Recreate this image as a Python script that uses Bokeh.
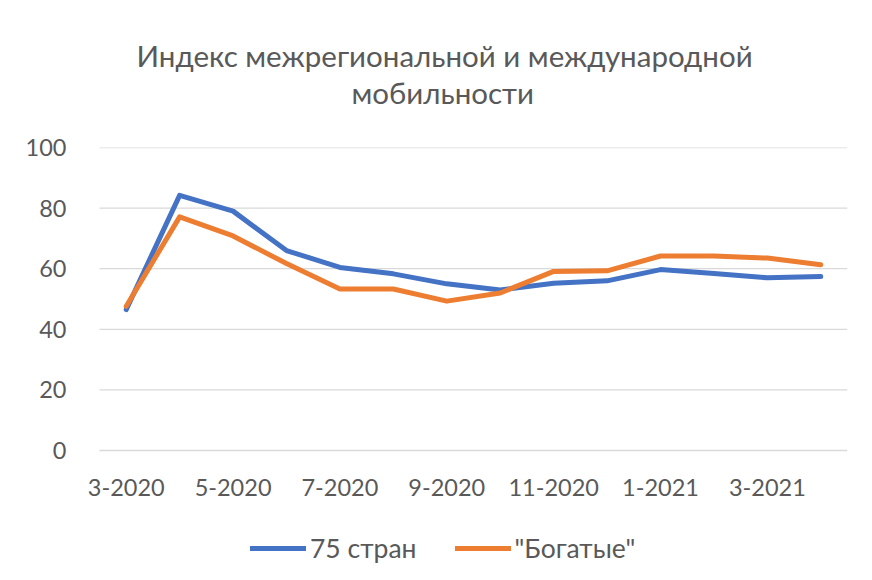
from bokeh.plotting import figure
from bokeh.models import Range1d, FixedTicker, Legend, LegendItem, Title
from bokeh.core.properties import value
from bokeh.embed import file_html
from bokeh.resources import INLINE

months = ["3-2020", "4-2020", "5-2020", "6-2020", "7-2020", "8-2020", "9-2020",
          "10-2020", "11-2020", "12-2020", "1-2021", "2-2021", "3-2021", "4-2021"]
countries75 = [46.5, 84.2, 79.0, 66.0, 60.4, 58.3, 55.0, 53.0, 55.2, 56.0, 59.7, 58.4, 57.0, 57.4]
rich = [47.6, 77.1, 70.8, 61.7, 53.3, 53.3, 49.3, 52.0, 59.1, 59.3, 64.2, 64.2, 63.5, 61.3]
series_names = ["75 стран", "\"Богатые\""]
title_lines = ["Индекс межрегиональной и международной", "мобильности"]
y_ticks = [0, 20, 40, 60, 80, 100]

FONT = "Lato"
GREY = "#595959"

xs = list(range(len(months)))
label_xs = xs[::2]
label_texts = months[::2]
cat_lo, cat_hi = -0.5, len(months) - 0.5

# frame: 303 px for 0..100, extended downward/leftward to host the category labels and legend
p = figure(frame_width=767, frame_height=428, output_backend="svg", toolbar_location=None,
           x_range=Range1d(cat_lo - 0.3556, cat_hi), y_range=Range1d(-41.25, 100),
           min_border_left=80, min_border_right=25, min_border_top=147, min_border_bottom=5)
p.outline_line_color = None
p.background_fill_color = "white"
p.border_fill_color = "white"
p.title = None

# horizontal gridlines across the category span
p.segment(x0=[cat_lo] * len(y_ticks), y0=y_ticks, x1=[cat_hi] * len(y_ticks), y1=y_ticks,
          line_color="#d9d9d9", line_width=1.3)

r1 = p.line(xs, countries75, line_color="#4472C4", line_width=5, line_cap="round", line_join="round")
r2 = p.line(xs, rich, line_color="#ED7D31", line_width=5, line_cap="round", line_join="round")

# category labels of the x axis
p.text(label_xs, [-12.2] * len(label_xs), text=label_texts, text_align="center",
       text_baseline="middle", text_font=value(FONT), text_font_size="23.5px",
       text_color=GREY)

p.xaxis.visible = False
p.yaxis.ticker = FixedTicker(ticks=y_ticks)
ax = p.yaxis[0]
ax.major_tick_line_color = None
ax.minor_tick_line_color = None
ax.major_label_text_font = FONT
ax.major_label_text_font_size = "23.5px"
ax.major_label_text_color = GREY
ax.axis_line_color = None
ax.major_label_standoff = 8

p.xgrid.grid_line_color = None
p.ygrid.grid_line_color = None

# spacer next to the frame, then the second title line, then the first one above it
p.add_layout(Title(text=" ", standoff=24, text_font=FONT, text_font_size="10px"), "above")
p.add_layout(Title(text=title_lines[1], align="left", offset=271, standoff=0,
                   text_font=FONT, text_font_size="29.5px", text_color=GREY,
                   text_font_style="normal"), "above")
p.add_layout(Title(text=title_lines[0], align="left", offset=56, standoff=0,
                   text_font=FONT, text_font_size="29.5px", text_color=GREY,
                   text_font_style="normal"), "above")

legend = Legend(items=[LegendItem(label=series_names[0], renderers=[r1]),
                       LegendItem(label=series_names[1], renderers=[r2])],
                orientation="horizontal", location=(170, 11),
                label_text_font=FONT, label_text_font_size="26.5px", label_text_color=GREY,
                glyph_width=56, spacing=38, border_line_color=None, background_fill_alpha=0,
                margin=0, padding=0, label_standoff=4)
p.add_layout(legend, "center")

open("out.html", "w").write(file_html(p, INLINE))
